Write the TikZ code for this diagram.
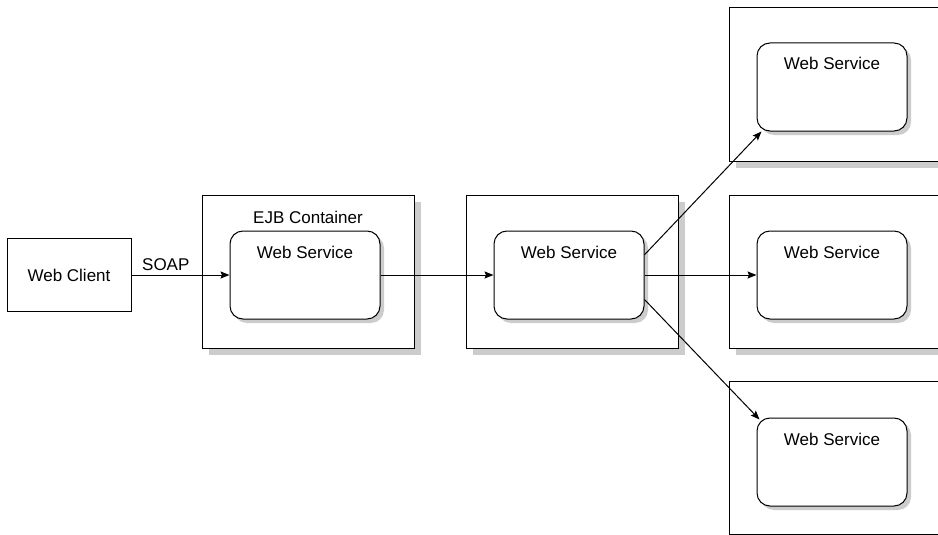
\documentclass[tikz,border=0pt]{standalone}
\usepackage{fontspec}
\setmainfont{Liberation Sans}
\usepackage{tikz}
\usetikzlibrary{arrows.meta, positioning, shadows}
\definecolor{shadowgray}{RGB}{204,204,204}

\begin{document}
\begin{tikzpicture}[
        x=1pt, y=1pt,
        node distance=50pt and 50pt,
        container/.style={rectangle, draw, fill=white, line width=1pt, minimum width=212pt, text height=24pt, text depth=121pt, inner ysep=4pt, font=\fontsize{17}{20}\selectfont, drop shadow={shadow xshift=7pt, shadow yshift=-7pt, fill=shadowgray, opacity=1}},
        service/.style={rectangle, draw, fill=white, line width=1pt, rounded corners=13pt, minimum width=150pt, text height=23pt, text depth=57pt, inner ysep=4pt, font=\fontsize{17}{20}\selectfont, drop shadow={shadow xshift=4pt, shadow yshift=-4pt, fill=shadowgray, opacity=1}},
        client/.style={rectangle, draw, fill=white, line width=1pt, minimum width=124pt, minimum height=73pt, font=\fontsize{17}{20}\selectfont},
        arrow/.style={draw, -{Stealth[length=9pt, width=7pt, inset=1.5pt]}, line width=1pt}
    ]
        \useasboundingbox (0,0) rectangle (938,-535);
        \clip (0,0) rectangle (938,-535);

        \node [container] (ejb) at (308,-271.5) {EJB Container};
        \node [service, below right=36pt and 28pt of ejb.north west] (wsejb) {Web Service};
        \node [client, left=98pt of wsejb] (client) {Web Client};

        \node [container, right=51pt of ejb] (mid) {};
        \node [service, below right=36pt and 28pt of mid.north west] (wsmid) {Web Service};

        \node [container, right=50pt of mid] (hostb) {};
        \node [container, above=33pt of hostb] (hosta) {};
        \node [container, below=32pt of hostb] (hostc) {};
        \node [service, below right=35pt and 28pt of hosta.north west] (wsa) {Web Service};
        \node [service, below right=36pt and 28pt of hostb.north west] (wsb) {Web Service};
        \node [service, below right=37pt and 28pt of hostc.north west] (wsc) {Web Service};

        \path [arrow] (client) -- node [above=1pt, pos=0.35, font=\fontsize{17}{20}\selectfont] (soap) {SOAP} (wsejb);
        \path [arrow] (wsejb) -- (wsmid);
        \path [arrow] (wsmid) -- (wsb);
        \path [arrow] (wsmid.15) -- ([xshift=5pt]wsa.south west);
        \path [arrow] (wsmid.-18) -- ([xshift=3pt, yshift=-2pt]wsc.north west);
    \end{tikzpicture}
\end{document}
